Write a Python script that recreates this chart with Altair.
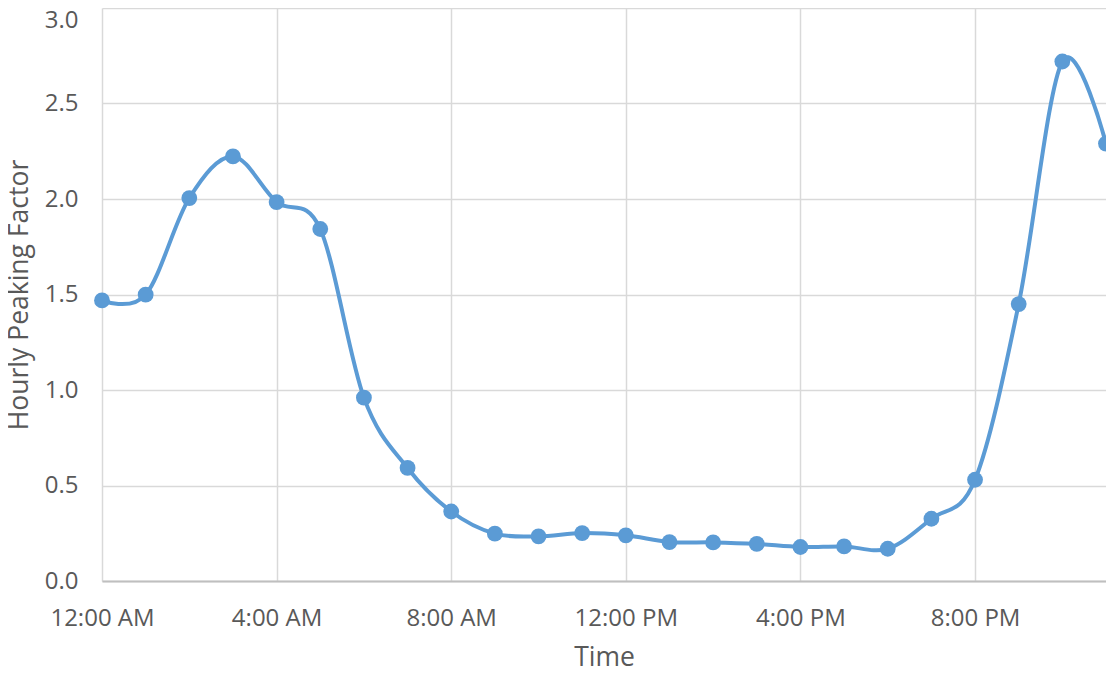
import altair as alt
import pandas as pd

hours = list(range(24))
factor = [1.469, 1.499, 2.005, 2.223, 1.984, 1.843, 0.960, 0.592, 0.364, 0.248,
          0.234, 0.251, 0.239, 0.204, 0.202, 0.194, 0.178, 0.181, 0.169, 0.326,
          0.530, 1.450, 2.720, 2.290]
tick_hours = [0, 4, 8, 12, 16, 20]
tick_labels = ["12:00 AM", "4:00 AM", "8:00 AM", "12:00 PM", "4:00 PM", "8:00 PM"]
y_ticks = [0, 0.5, 1.0, 1.5, 2.0, 2.5, 3.0]

df = pd.DataFrame({"hour": hours, "factor": factor})

label_expr = " : ".join(
    f"datum.value == {h} ? '{l}'" for h, l in zip(tick_hours, tick_labels)
) + " : ''"

FONT = "Open Sans"
GRAY = "#595959"
BLUE = "#5B9BD5"

x = alt.X(
    "hour:Q",
    scale=alt.Scale(domain=[0, 23], nice=False, zero=False),
    axis=alt.Axis(
        title="Time",
        values=tick_hours,
        labelExpr=label_expr,
        labelFont=FONT, labelFontSize=24, labelColor=GRAY,
        labelBaseline="top", labelPadding=25, labelFlush=False,
        titleFont=FONT, titleFontSize=26.5, titleFontWeight="normal", titleColor=GRAY,
        titlePadding=14,
        ticks=False, domainColor="#BFBFBF", domainWidth=2,
        gridColor="#D9D9D9", gridWidth=1.5,
    ),
)
y = alt.Y(
    "factor:Q",
    scale=alt.Scale(domain=[0, 3], nice=False),
    axis=alt.Axis(
        title="Hourly Peaking Factor",
        values=y_ticks,
        format=".1f",
        labelFont=FONT, labelFontSize=24, labelColor=GRAY,
        labelBaseline={"condition": {"test": "datum.value == 3", "value": "top"},
                       "value": "middle"},
        labelPadding=24,
        titleFont=FONT, titleFontSize=26.5, titleFontWeight="normal", titleColor=GRAY,
        titlePadding=11,
        ticks=False, domain=False,
        gridColor="#D9D9D9", gridWidth=1.5,
    ),
)

line = alt.Chart(df).mark_line(
    interpolate="cardinal", tension=0, color=BLUE, strokeWidth=4
).encode(x=x, y=y)
points = alt.Chart(df).mark_circle(size=250, color=BLUE, opacity=1).encode(x=x, y=y)

chart = (line + points).properties(
    width=1004, height=573,
    autosize=alt.AutoSizeParams(type="none"),
    padding={"left": 94, "top": 0, "right": 0, "bottom": 92},
).configure_view(stroke=None)

chart.save("out.html", embed_options={"renderer": "svg", "actions": False})
